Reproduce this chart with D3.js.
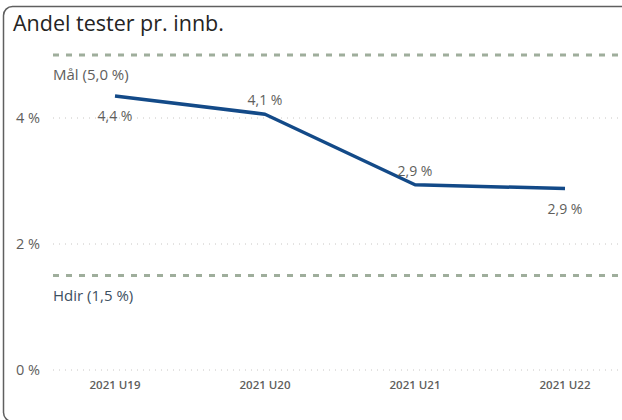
<!DOCTYPE html>
<html>
<head>
<meta charset="utf-8">
<script src="https://cdn.jsdelivr.net/npm/d3@7"></script>
<style>
  body { margin: 0; background: #fff; }
  svg { display: block; font-family: "Open Sans", "DejaVu Sans", sans-serif; }
</style>
</head>
<body>
<svg></svg>
<script>
const size = {w: 622, h: 420};
const margin = {t: 55, r: 0, b: 50, l: 53};

// data
const weeks = ['2021 U19', '2021 U20', '2021 U21', '2021 U22'];
const share = [4.35, 4.06, 2.94, 2.88];
const shareLabels = ['4,4 %', '4,1 %', '2,9 %', '2,9 %'];
const labelBelow = [true, false, false, true];
const yTicks = [0, 2, 4];
const refValues = [5.0, 1.5];
const refLabels = ['Mål (5,0 %)', 'Hdir (1,5 %)'];

const svg = d3.select('svg')
    .attr('width', size.w)
    .attr('height', size.h);

// card border
svg.append('rect')
    .attr('x', 3.5).attr('y', 6.5)
    .attr('width', 640).attr('height', 415)
    .attr('rx', 9)
    .attr('fill', 'none')
    .attr('stroke', '#5f5f5f')
    .attr('stroke-width', 1.5);

svg.append('text')
    .attr('x', 13).attr('y', 31)
    .attr('fill', '#252423')
    .style('font-size', '21.5px')
    .text('Andel tester pr. innb.');

const x = d3.scalePoint()
    .domain(weeks)
    .range([115, 565]);

const y = d3.scaleLinear()
    .domain([0, 5])
    .range([370, 55]);

// gridlines
svg.append('g')
    .selectAll('line')
    .data(yTicks)
    .enter()
    .append('line')
    .attr('x1', margin.l).attr('x2', size.w)
    .attr('y1', d => y(d)).attr('y2', d => y(d))
    .attr('stroke', '#c8c6c4')
    .attr('stroke-width', 1)
    .attr('stroke-dasharray', '1,5');

// y axis labels
svg.append('g')
    .selectAll('text')
    .data(yTicks)
    .enter()
    .append('text')
    .attr('x', 40)
    .attr('y', d => y(d) + 5)
    .attr('text-anchor', 'end')
    .attr('fill', '#605e5c')
    .style('font-size', '14.5px')
    .text(d => d + ' %');

// x axis labels
svg.append('g')
    .selectAll('text')
    .data(weeks)
    .enter()
    .append('text')
    .attr('x', d => x(d))
    .attr('y', 389)
    .attr('text-anchor', 'middle')
    .attr('fill', '#605e5c')
    .style('font-size', '11.5px')
    .style('font-weight', 600)
    .text(d => d);

// reference lines
svg.append('g')
    .selectAll('line')
    .data(refValues)
    .enter()
    .append('line')
    .attr('x1', margin.l).attr('x2', size.w)
    .attr('y1', d => y(d)).attr('y2', d => y(d))
    .attr('stroke', '#9fae9c')
    .attr('stroke-width', 3)
    .attr('stroke-dasharray', '6,7');

svg.append('g')
    .selectAll('text')
    .data(refValues)
    .enter()
    .append('text')
    .attr('x', margin.l)
    .attr('y', d => y(d) + 25)
    .attr('fill', (d, i) => i === 0 ? '#605e5c' : '#3d4f5f')
    .style('font-size', '15px')
    .text((d, i) => refLabels[i]);

// line
const line = d3.line()
    .x((d, i) => x(weeks[i]))
    .y(d => y(d));

svg.append('path')
    .datum(share)
    .attr('d', line)
    .attr('fill', 'none')
    .attr('stroke', '#134a88')
    .attr('stroke-width', 3.5)
    .attr('stroke-linejoin', 'round');

// data labels
svg.append('g')
    .selectAll('text')
    .data(share)
    .enter()
    .append('text')
    .attr('x', (d, i) => x(weeks[i]))
    .attr('y', (d, i) => labelBelow[i] ? y(d) + 25 : y(d) - 9)
    .attr('text-anchor', 'middle')
    .attr('fill', '#605e5c')
    .style('font-size', '14px')
    .text((d, i) => shareLabels[i]);
</script>
</body>
</html>
